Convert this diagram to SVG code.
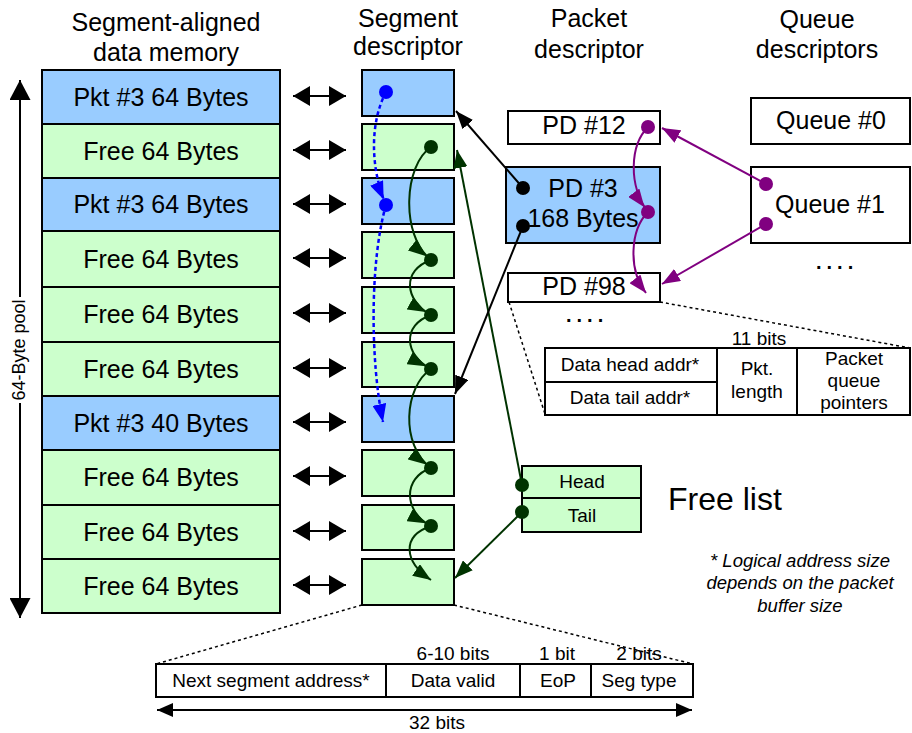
<svg xmlns="http://www.w3.org/2000/svg" width="912" height="733" viewBox="0 0 912 733">
<defs>
<style>
text{font-family:"Liberation Sans",Arial,Helvetica,sans-serif;fill:#000}
.h{font-size:25px;text-anchor:middle}
.s{font-size:19px;text-anchor:middle}
.box{stroke:#000;stroke-width:2}
.blue{fill:#99ccff}
.green{fill:#ccffcc}
.white{fill:#fff}
.dash{fill:none;stroke:#000;stroke-width:1.5;stroke-dasharray:3 3}
.ck{fill:none;stroke:#000;stroke-width:2}
.cg{fill:none;stroke:#003300;stroke-width:2}
.cp{fill:none;stroke:#800080;stroke-width:2}
.cb{fill:none;stroke:#0000ff;stroke-width:2.5;stroke-dasharray:4 3}
.dots{font-size:20px;font-weight:bold;letter-spacing:5px}
</style>
<marker id="aK" viewBox="0 0 18 14" refX="18" refY="7" markerWidth="18" markerHeight="14" markerUnits="userSpaceOnUse" orient="auto"><path d="M0,0 L18,7 L0,14 z" fill="#000"/></marker>
<marker id="aG" viewBox="0 0 18 14" refX="18" refY="7" markerWidth="18" markerHeight="14" markerUnits="userSpaceOnUse" orient="auto"><path d="M0,0 L18,7 L0,14 z" fill="#003300"/></marker>
<marker id="aGd" viewBox="0 0 24 14" refX="24" refY="7" markerWidth="24" markerHeight="14" markerUnits="userSpaceOnUse" orient="auto"><path d="M0,0 L18,7 L0,14 z" fill="#003300"/></marker>
<marker id="aP" viewBox="0 0 18 14" refX="18" refY="7" markerWidth="18" markerHeight="14" markerUnits="userSpaceOnUse" orient="auto"><path d="M0,0 L18,7 L0,14 z" fill="#800080"/></marker>
<marker id="aPd" viewBox="0 0 24 14" refX="24" refY="7" markerWidth="24" markerHeight="14" markerUnits="userSpaceOnUse" orient="auto"><path d="M0,0 L18,7 L0,14 z" fill="#800080"/></marker>
<marker id="aB" viewBox="0 0 18 14" refX="18" refY="7" markerWidth="18" markerHeight="14" markerUnits="userSpaceOnUse" orient="auto"><path d="M0,0 L18,7 L0,14 z" fill="#0000ff"/></marker>
<marker id="aBd" viewBox="0 0 24 14" refX="24" refY="7" markerWidth="24" markerHeight="14" markerUnits="userSpaceOnUse" orient="auto"><path d="M0,0 L18,7 L0,14 z" fill="#0000ff"/></marker>
<marker id="aD" viewBox="0 0 17 20" refX="17" refY="10" markerWidth="17" markerHeight="20" markerUnits="userSpaceOnUse" orient="auto-start-reverse"><path d="M0,0 L17,10 L0,20 z" fill="#000"/></marker>
<marker id="aL" viewBox="0 0 20 21" refX="20" refY="10.5" markerWidth="20" markerHeight="21" markerUnits="userSpaceOnUse" orient="auto-start-reverse"><path d="M0,0 L20,10.5 L0,21 z" fill="#000"/></marker>
<marker id="aW" viewBox="0 0 16 14" refX="16" refY="7" markerWidth="16" markerHeight="14" markerUnits="userSpaceOnUse" orient="auto-start-reverse"><path d="M0,0 L16,7 L0,14 z" fill="#000"/></marker>
</defs>
<rect width="912" height="733" fill="#fff"/>

<g id="headers">
<text class="h" x="166" y="31">Segment-aligned</text>
<text class="h" x="166" y="61">data memory</text>
<text class="h" x="408" y="27">Segment</text>
<text class="h" x="408" y="55">descriptor</text>
<text class="h" x="589" y="27">Packet</text>
<text class="h" x="589" y="58">descriptor</text>
<text class="h" x="817" y="28">Queue</text>
<text class="h" x="817" y="58">descriptors</text>
</g>

<g id="pool-arrow">
<line x1="20" y1="80" x2="20" y2="297" stroke="#000" stroke-width="2" marker-start="url(#aL)"/>
<line x1="20" y1="403" x2="20" y2="618" stroke="#000" stroke-width="2" marker-end="url(#aL)"/>
<text transform="translate(20,350) rotate(-90)" x="0" y="5" font-size="18" text-anchor="middle">64-Byte pool</text>
</g>

<g id="mem-0"><rect class="box blue" x="42" y="70" width="238" height="54"/><text class="h" x="161" y="106">Pkt #3 64 Bytes</text></g>
<g id="mem-1"><rect class="box green" x="42" y="124" width="238" height="54"/><text class="h" x="161" y="160">Free 64 Bytes</text></g>
<g id="mem-2"><rect class="box blue" x="42" y="178" width="238" height="53"/><text class="h" x="161" y="213">Pkt #3 64 Bytes</text></g>
<g id="mem-3"><rect class="box green" x="42" y="231" width="238" height="56"/><text class="h" x="161" y="268">Free 64 Bytes</text></g>
<g id="mem-4"><rect class="box green" x="42" y="287" width="238" height="55"/><text class="h" x="161" y="323">Free 64 Bytes</text></g>
<g id="mem-5"><rect class="box green" x="42" y="342" width="238" height="54"/><text class="h" x="161" y="378">Free 64 Bytes</text></g>
<g id="mem-6"><rect class="box blue" x="42" y="396" width="238" height="54"/><text class="h" x="161" y="432">Pkt #3 40 Bytes</text></g>
<g id="mem-7"><rect class="box green" x="42" y="450" width="238" height="55"/><text class="h" x="161" y="486">Free 64 Bytes</text></g>
<g id="mem-8"><rect class="box green" x="42" y="505" width="238" height="54"/><text class="h" x="161" y="541">Free 64 Bytes</text></g>
<g id="mem-9"><rect class="box green" x="42" y="559" width="238" height="54"/><text class="h" x="161" y="595">Free 64 Bytes</text></g>

<g id="seg-0"><rect class="box blue" x="362" y="70" width="92" height="46"/><circle cx="386" cy="92" r="7" fill="#0000ff"/></g>
<g id="seg-1"><rect class="box green" x="362" y="124" width="92" height="46"/><circle cx="431" cy="147" r="7" fill="#003300"/></g>
<g id="seg-2"><rect class="box blue" x="362" y="178" width="92" height="46"/><circle cx="386" cy="205" r="7" fill="#0000ff"/></g>
<g id="seg-3"><rect class="box green" x="362" y="232" width="92" height="46"/><circle cx="431" cy="260" r="7" fill="#003300"/></g>
<g id="seg-4"><rect class="box green" x="362" y="287" width="92" height="46"/><circle cx="431" cy="315" r="7" fill="#003300"/></g>
<g id="seg-5"><rect class="box green" x="362" y="342" width="92" height="45"/><circle cx="431" cy="369" r="7" fill="#003300"/></g>
<g id="seg-6"><rect class="box blue" x="362" y="396" width="92" height="46"/></g>
<g id="seg-7"><rect class="box green" x="362" y="450" width="92" height="46"/><circle cx="431" cy="468" r="7" fill="#003300"/></g>
<g id="seg-8"><rect class="box green" x="362" y="505" width="92" height="45"/><circle cx="431" cy="526" r="7" fill="#003300"/></g>
<g id="seg-9"><rect class="box green" x="362" y="559" width="92" height="46"/></g>

<g id="pd-12"><rect class="box white" x="508" y="111" width="152" height="33"/><text class="h" x="584" y="134">PD #12</text><circle cx="648" cy="127" r="7" fill="#800080"/></g>
<g id="pd-3"><rect class="box blue" x="506" y="167" width="154" height="76"/><text class="h" x="583" y="197">PD #3</text><text class="h" x="583" y="227">168 Bytes</text><circle cx="523" cy="188" r="7" fill="#000"/><circle cx="523" cy="226" r="7" fill="#000"/><circle cx="648" cy="212" r="7" fill="#800080"/></g>
<g id="pd-98"><rect class="box white" x="508" y="273" width="152" height="29"/><text class="h" x="584" y="295">PD #98</text></g>
<g id="pd-more"><text class="dots" x="566" y="322">....</text></g>

<g id="queue-0"><rect class="box white" x="751" y="98" width="159" height="46"/><text class="h" x="831" y="129">Queue #0</text></g>
<g id="queue-1"><rect class="box white" x="751" y="167" width="159" height="76"/><text class="h" x="830" y="213">Queue #1</text><circle cx="766" cy="184" r="7" fill="#800080"/><circle cx="766" cy="224" r="7" fill="#800080"/></g>
<g id="queue-more"><text class="dots" x="816" y="269">....</text></g>

<g id="pd-format">
<line class="dash" x1="509" y1="302" x2="545" y2="414"/>
<line class="dash" x1="660" y1="302" x2="910" y2="348"/>
<text class="s" x="759" y="345">11 bits</text>
<rect class="box white" x="545" y="348" width="172" height="34"/>
<rect class="box white" x="545" y="382" width="172" height="33"/>
<rect class="box white" x="717" y="348" width="80" height="67"/>
<rect class="box white" x="797" y="348" width="113" height="67"/>
<text class="s" x="630" y="371">Data head addr*</text>
<text class="s" x="630" y="404">Data tail addr*</text>
<text class="s" x="757" y="375">Pkt.</text>
<text class="s" x="757" y="398">length</text>
<text class="s" x="854" y="365">Packet</text>
<text class="s" x="854" y="387">queue</text>
<text class="s" x="854" y="409">pointers</text>
</g>

<g id="free-list">
<rect class="box green" x="522" y="466" width="119" height="32"/>
<rect class="box green" x="522" y="498" width="119" height="34"/>
<text class="s" x="582" y="488">Head</text>
<text class="s" x="582" y="522">Tail</text>
<circle cx="522" cy="485" r="7" fill="#003300"/>
<circle cx="522" cy="512" r="7" fill="#003300"/>
<text x="668" y="510" font-size="32">Free list</text>
</g>

<g id="footnote">
<text x="800" y="567" font-size="18.5" font-style="italic" text-anchor="middle">* Logical address size</text>
<text x="800" y="589" font-size="18.5" font-style="italic" text-anchor="middle">depends on the packet</text>
<text x="800" y="612" font-size="18.5" font-style="italic" text-anchor="middle">buffer size</text>
</g>

<g id="seg-format">
<line class="dash" x1="362" y1="605" x2="156" y2="664"/>
<line class="dash" x1="454" y1="605" x2="693" y2="664"/>
<rect class="box white" x="156" y="664" width="230" height="33"/>
<rect class="box white" x="386" y="664" width="134" height="33"/>
<rect class="box white" x="520" y="664" width="71" height="33"/>
<rect class="box white" x="591" y="664" width="102" height="33"/>
<text class="s" x="271" y="687">Next segment address*</text>
<text class="s" x="453" y="687">Data valid</text>
<text class="s" x="558" y="687">EoP</text>
<text class="s" x="639" y="687">Seg type</text>
<text class="s" x="453" y="660">6-10 bits</text>
<text class="s" x="557" y="660">1 bit</text>
<text class="s" x="639" y="660">2 bits</text>
<line x1="157" y1="710" x2="692" y2="710" stroke="#000" stroke-width="2" marker-start="url(#aW)" marker-end="url(#aW)"/>
<text class="s" x="437" y="729">32 bits</text>
</g>

<g id="connectors">
<line x1="293" y1="96" x2="346" y2="96" stroke="#000" stroke-width="2" marker-start="url(#aD)" marker-end="url(#aD)"/>
<line x1="293" y1="150" x2="346" y2="150" stroke="#000" stroke-width="2" marker-start="url(#aD)" marker-end="url(#aD)"/>
<line x1="293" y1="204" x2="346" y2="204" stroke="#000" stroke-width="2" marker-start="url(#aD)" marker-end="url(#aD)"/>
<line x1="293" y1="258" x2="346" y2="258" stroke="#000" stroke-width="2" marker-start="url(#aD)" marker-end="url(#aD)"/>
<line x1="293" y1="313" x2="346" y2="313" stroke="#000" stroke-width="2" marker-start="url(#aD)" marker-end="url(#aD)"/>
<line x1="293" y1="368" x2="346" y2="368" stroke="#000" stroke-width="2" marker-start="url(#aD)" marker-end="url(#aD)"/>
<line x1="293" y1="422" x2="346" y2="422" stroke="#000" stroke-width="2" marker-start="url(#aD)" marker-end="url(#aD)"/>
<line x1="293" y1="476" x2="346" y2="476" stroke="#000" stroke-width="2" marker-start="url(#aD)" marker-end="url(#aD)"/>
<line x1="293" y1="531" x2="346" y2="531" stroke="#000" stroke-width="2" marker-start="url(#aD)" marker-end="url(#aD)"/>
<line x1="293" y1="585" x2="346" y2="585" stroke="#000" stroke-width="2" marker-start="url(#aD)" marker-end="url(#aD)"/>

<path class="cb" d="M386,92 C371,120 369,165 386,205" marker-end="url(#aBd)"/>
<path class="cb" d="M386,205 C370,260 370,360 383,422" marker-end="url(#aB)"/>

<path class="cg" d="M431,147 C404,165 400,235 431,260" marker-end="url(#aGd)"/>
<path class="cg" d="M431,260 C402,270 404,300 431,315" marker-end="url(#aGd)"/>
<path class="cg" d="M431,315 C402,325 404,355 431,369" marker-end="url(#aGd)"/>
<path class="cg" d="M431,369 C404,387 400,445 431,468" marker-end="url(#aGd)"/>
<path class="cg" d="M431,468 C402,478 404,512 431,526" marker-end="url(#aGd)"/>
<path class="cg" d="M431,526 C401,536 404,562 431,580" marker-end="url(#aG)"/>

<line class="cg" x1="522" y1="485" x2="457" y2="150" marker-end="url(#aG)"/>
<line class="cg" x1="522" y1="512" x2="455" y2="578" marker-end="url(#aG)"/>

<line class="ck" x1="523" y1="188" x2="456" y2="111" marker-end="url(#aK)"/>
<line class="ck" x1="523" y1="226" x2="455" y2="394" marker-end="url(#aK)"/>

<line class="cp" x1="766" y1="184" x2="662" y2="128" marker-end="url(#aP)"/>
<line class="cp" x1="766" y1="224" x2="662" y2="284" marker-end="url(#aP)"/>
<path class="cp" d="M648,127 C630,145 628,185 648,212" marker-end="url(#aPd)"/>
<path class="cp" d="M648,212 C630,230 628,270 646,293" marker-end="url(#aP)"/>
</g>
</svg>
